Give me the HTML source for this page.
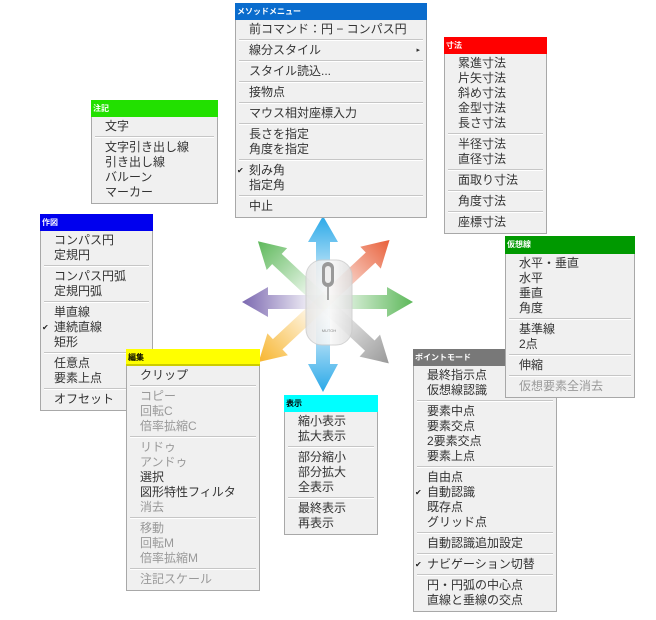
<!DOCTYPE html>
<html><head><meta charset="utf-8"><style>
*{margin:0;padding:0;box-sizing:border-box}
body{width:656px;height:620px;background:#fff;position:relative;overflow:hidden;font-family:"Liberation Sans","Noto Sans CJK JP",sans-serif}
.m{position:absolute;background:#f0f0f0;border:1px solid #a8a8a8}
.h{height:17px;font-size:8px;font-weight:bold;color:#fff;padding:4px 0 0 2px;line-height:9px;margin:-1px -1px 0 -1px}
.b{padding:2px 0 3px 0}
.i{height:15px;line-height:15px;font-size:12px;color:#333;padding-left:13px;position:relative;white-space:nowrap}
.g{color:#999}
.s{height:6px;position:relative}
.s:after{content:"";position:absolute;left:3px;right:3px;top:2px;border-top:1px solid #c6c6c6;border-bottom:1px solid #fff}
.c:before{content:"✔";position:absolute;left:1px;top:0;font-size:8px;color:#222}
</style></head><body>

<svg width="656" height="620" style="position:absolute;left:0;top:0">
<defs>
<linearGradient id="gb" x1="0" x2="1"><stop offset="0.15" stop-color="#29a8e8" stop-opacity="0.1"/><stop offset="1" stop-color="#29a8e8"/></linearGradient>
<linearGradient id="go" x1="0" x2="1"><stop offset="0.15" stop-color="#e8603a" stop-opacity="0.1"/><stop offset="1" stop-color="#e8603a"/></linearGradient>
<linearGradient id="gg" x1="0" x2="1"><stop offset="0.15" stop-color="#5db85a" stop-opacity="0.1"/><stop offset="1" stop-color="#5db85a"/></linearGradient>
<linearGradient id="gs" x1="0" x2="1"><stop offset="0.15" stop-color="#999" stop-opacity="0.1"/><stop offset="1" stop-color="#999"/></linearGradient>
<linearGradient id="gy" x1="0" x2="1"><stop offset="0.15" stop-color="#f7b52e" stop-opacity="0.1"/><stop offset="1" stop-color="#f7b52e"/></linearGradient>
<linearGradient id="gp" x1="0" x2="1"><stop offset="0.15" stop-color="#7b68b0" stop-opacity="0.1"/><stop offset="1" stop-color="#7b68b0"/></linearGradient>
<linearGradient id="mo" x1="0" x2="1"><stop offset="0" stop-color="#e4e4e4"/><stop offset="0.5" stop-color="#fafafa"/><stop offset="1" stop-color="#dcdcdc"/></linearGradient>
</defs>
<g transform="translate(323,302)">
<path transform="rotate(-90)" d="M0,-7 H60 V-15 L86,0 L60,15 V7 H0Z" fill="url(#gb)"/>
<path transform="rotate(90)" d="M0,-7 H62 V-15 L90,0 L62,15 V7 H0Z" fill="url(#gb)"/>
<path transform="rotate(0)" d="M0,-7 H64 V-15 L90,0 L64,15 V7 H0Z" fill="url(#gg)"/>
<path transform="rotate(180)" d="M0,-7 H55 V-15 L81,0 L55,15 V7 H0Z" fill="url(#gp)"/>
<path transform="rotate(-43)" d="M0,-7 H65 V-15 L91,0 L65,15 V7 H0Z" fill="url(#go)"/>
<path transform="rotate(-137)" d="M0,-7 H63 V-15 L89,0 L63,15 V7 H0Z" fill="url(#gg)"/>
<path transform="rotate(43)" d="M0,-7 H64 V-15 L90,0 L64,15 V7 H0Z" fill="url(#gs)"/>
<path transform="rotate(137)" d="M0,-7 H62 V-15 L88,0 L62,15 V7 H0Z" fill="url(#gy)"/>
</g>
<rect x="306" y="260" width="46" height="85" rx="16" fill="url(#mo)" opacity="0.85" stroke="#ccc"/>
<rect x="322" y="262" width="12" height="25" rx="6" fill="#999"/>
<rect x="325" y="266" width="6" height="17" rx="3" fill="#eee"/>
<line x1="328" y1="287" x2="328" y2="300" stroke="#555"/>
<text x="329" y="332" font-size="4" fill="#888" text-anchor="middle" font-family="Liberation Sans">MUTOH</text>
</svg>

<div class="m" style="left:235px;top:3px;width:192px">
<div class="h" style="background:#0a6ccd">メソッドメニュー</div><div class="b">
<div class="i">前コマンド：円 − コンパス円</div><div class="s"></div>
<div class="i">線分スタイル<span style="position:absolute;right:6px;font-size:7px">▸</span></div><div class="s"></div>
<div class="i">スタイル読込...</div><div class="s"></div>
<div class="i">接物点</div><div class="s"></div>
<div class="i">マウス相対座標入力</div><div class="s"></div>
<div class="i">長さを指定</div><div class="i">角度を指定</div><div class="s"></div>
<div class="i c">刻み角</div><div class="i">指定角</div><div class="s"></div>
<div class="i">中止</div></div></div>

<div class="m" style="left:91px;top:100px;width:127px">
<div class="h" style="background:#22e000">注記</div><div class="b">
<div class="i">文字</div><div class="s"></div>
<div class="i">文字引き出し線</div><div class="i">引き出し線</div><div class="i">バルーン</div><div class="i">マーカー</div></div></div>

<div class="m" style="left:40px;top:214px;width:113px">
<div class="h" style="background:#0000ee">作図</div><div class="b">
<div class="i">コンパス円</div><div class="i">定規円</div><div class="s"></div>
<div class="i">コンパス円弧</div><div class="i">定規円弧</div><div class="s"></div>
<div class="i">単直線</div><div class="i c">連続直線</div><div class="i">矩形</div><div class="s"></div>
<div class="i">任意点</div><div class="i">要素上点</div><div class="s"></div>
<div class="i">オフセット</div></div></div>

<div class="m" style="left:126px;top:349px;width:134px">
<div class="h" style="background:#ffff00;color:#000;border-bottom:2px solid #cccc00">編集</div><div class="b">
<div class="i">クリップ</div><div class="s"></div>
<div class="i g">コピー</div><div class="i g">回転C</div><div class="i g">倍率拡縮C</div><div class="s"></div>
<div class="i g">リドゥ</div><div class="i g">アンドゥ</div><div class="i">選択</div><div class="i">図形特性フィルタ</div><div class="i g">消去</div><div class="s"></div>
<div class="i g">移動</div><div class="i g">回転M</div><div class="i g">倍率拡縮M</div><div class="s"></div>
<div class="i g">注記スケール</div></div></div>

<div class="m" style="left:284px;top:395px;width:94px">
<div class="h" style="background:#00ffff;color:#000">表示</div><div class="b">
<div class="i">縮小表示</div><div class="i">拡大表示</div><div class="s"></div>
<div class="i">部分縮小</div><div class="i">部分拡大</div><div class="i">全表示</div><div class="s"></div>
<div class="i">最終表示</div><div class="i">再表示</div></div></div>

<div class="m" style="left:444px;top:37px;width:103px">
<div class="h" style="background:#ff0000">寸法</div><div class="b">
<div class="i">累進寸法</div><div class="i">片矢寸法</div><div class="i">斜め寸法</div><div class="i">金型寸法</div><div class="i">長さ寸法</div><div class="s"></div>
<div class="i">半径寸法</div><div class="i">直径寸法</div><div class="s"></div>
<div class="i">面取り寸法</div><div class="s"></div>
<div class="i">角度寸法</div><div class="s"></div>
<div class="i">座標寸法</div></div></div>

<div class="m" style="left:413px;top:349px;width:144px">
<div class="h" style="background:#787878">ポイントモード</div><div class="b">
<div class="i">最終指示点</div><div class="i">仮想線認識</div><div class="s"></div>
<div class="i">要素中点</div><div class="i">要素交点</div><div class="i">2要素交点</div><div class="i">要素上点</div><div class="s"></div>
<div class="i">自由点</div><div class="i c">自動認識</div><div class="i">既存点</div><div class="i">グリッド点</div><div class="s"></div>
<div class="i">自動認識追加設定</div><div class="s"></div>
<div class="i c">ナビゲーション切替</div><div class="s"></div>
<div class="i">円・円弧の中心点</div><div class="i">直線と垂線の交点</div></div></div>

<div class="m" style="left:505px;top:236px;width:130px">
<div class="h" style="background:#009900;height:18px">仮想線</div><div class="b">
<div class="i">水平・垂直</div><div class="i">水平</div><div class="i">垂直</div><div class="i">角度</div><div class="s"></div>
<div class="i">基準線</div><div class="i">2点</div><div class="s"></div>
<div class="i">伸縮</div><div class="s"></div>
<div class="i g">仮想要素全消去</div></div></div>

</body></html>
